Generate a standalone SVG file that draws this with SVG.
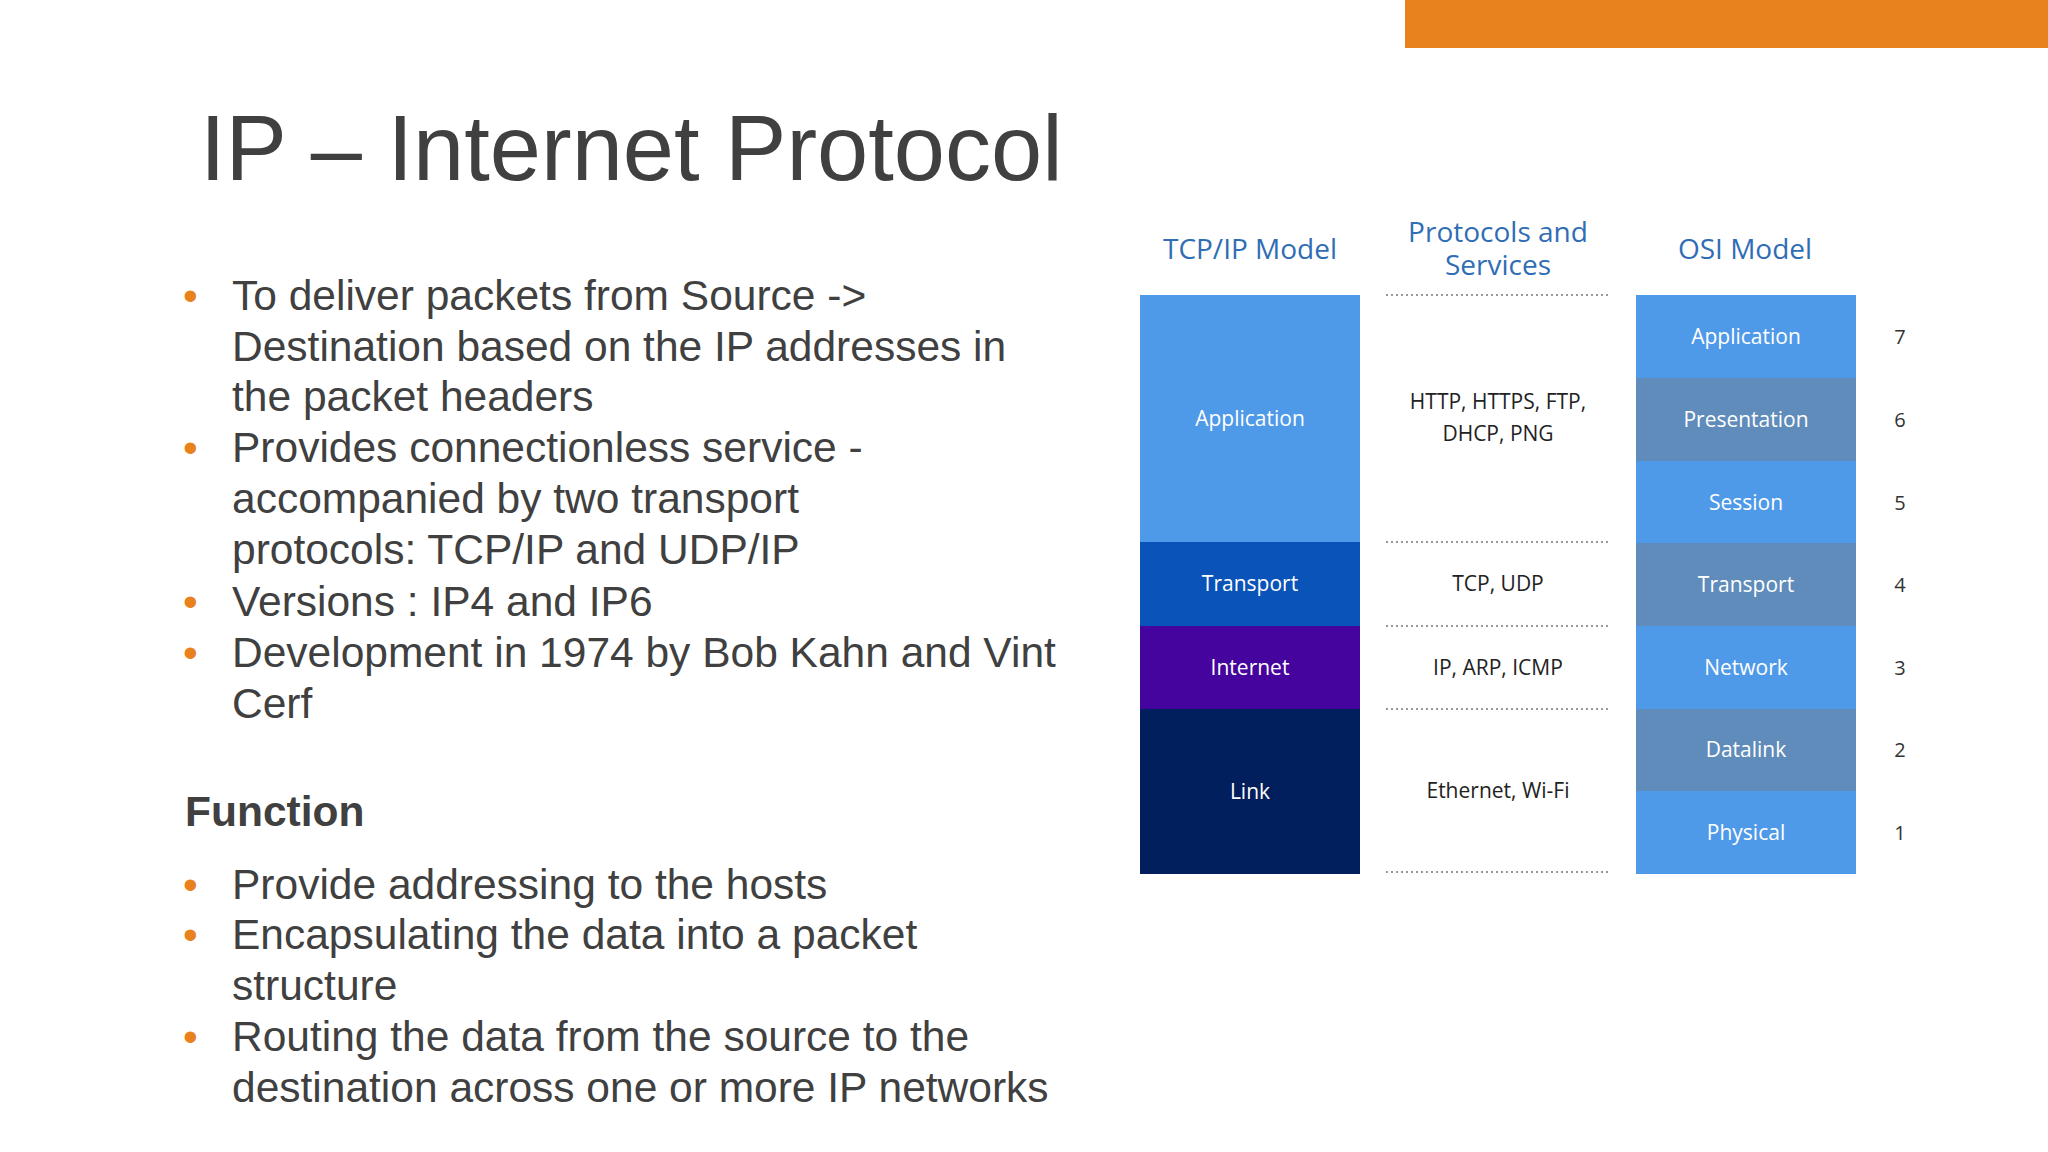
<svg xmlns="http://www.w3.org/2000/svg" width="2048" height="1152" viewBox="0 0 2048 1152">
<style>
.b{font-family:"Liberation Sans",Arial,sans-serif;font-size:42.5px;fill:#404040}
.d{fill:#e8821e;font-family:"Liberation Sans",Arial,sans-serif;font-size:42px}
.h{font-family:"Open Sans",sans-serif;font-size:28px;fill:#2f6db5;text-anchor:middle}
.l{font-family:"Open Sans",sans-serif;font-size:21px;fill:#fff;text-anchor:middle}
.p{font-family:"Open Sans",sans-serif;font-size:21px;fill:#222;text-anchor:middle}
.n{font-family:"Open Sans",sans-serif;font-size:20px;fill:#333;text-anchor:middle}
.dot{stroke:#999;stroke-width:2;stroke-dasharray:2 3}
</style>
<rect width="2048" height="1152" fill="#fff"/>
<rect x="1405" y="0" width="643" height="48" fill="#e8821e"/>
<text x="200" y="180" font-family="Liberation Sans,Arial,sans-serif" font-size="92" fill="#404040">IP – Internet Protocol</text>
<g id="bullets">
<text class="d" x="183" y="310">•</text><text class="b" x="232" y="310">To deliver packets from Source -&gt;</text>
<text class="b" x="232" y="361">Destination based on the IP addresses in</text>
<text class="b" x="232" y="411">the packet headers</text>
<text class="d" x="183" y="462">•</text><text class="b" x="232" y="462">Provides connectionless service -</text>
<text class="b" x="232" y="513">accompanied by two transport</text>
<text class="b" x="232" y="564">protocols: TCP/IP and UDP/IP</text>
<text class="d" x="183" y="616">•</text><text class="b" x="232" y="616">Versions : IP4 and IP6</text>
<text class="d" x="183" y="667">•</text><text class="b" x="232" y="667">Development in 1974 by Bob Kahn and Vint</text>
<text class="b" x="232" y="718">Cerf</text>
<text class="b" x="185" y="840" font-weight="bold" transform="translate(0,-14)">Function</text>
<text class="d" x="183" y="899">•</text><text class="b" x="232" y="899">Provide addressing to the hosts</text>
<text class="d" x="183" y="949">•</text><text class="b" x="232" y="949">Encapsulating the data into a packet</text>
<text class="b" x="232" y="1000">structure</text>
<text class="d" x="183" y="1051">•</text><text class="b" x="232" y="1051">Routing the data from the source to the</text>
<text class="b" x="232" y="1102">destination across one or more IP networks</text>
</g>
<g id="headers">
<text class="h" x="1250" y="259">TCP/IP Model</text>
<text class="h" x="1498" y="242">Protocols and</text>
<text class="h" x="1498" y="275">Services</text>
<text class="h" x="1745" y="259">OSI Model</text>
</g>
<g id="tcpip">
<rect x="1140" y="295" width="220" height="247" fill="#4f9ae8"/><text class="l" x="1250" y="426">Application</text>
<rect x="1140" y="542" width="220" height="84" fill="#0a53b8"/><text class="l" x="1250" y="591">Transport</text>
<rect x="1140" y="626" width="220" height="83" fill="#45049e"/><text class="l" x="1250" y="675">Internet</text>
<rect x="1140" y="709" width="220" height="165" fill="#001f5c"/><text class="l" x="1250" y="799">Link</text>
</g>
<g id="connectors">
<line class="dot" x1="1386" y1="295" x2="1610" y2="295"/>
<line class="dot" x1="1386" y1="542" x2="1610" y2="542"/>
<line class="dot" x1="1386" y1="626" x2="1610" y2="626"/>
<line class="dot" x1="1386" y1="709" x2="1610" y2="709"/>
<line class="dot" x1="1386" y1="872" x2="1610" y2="872"/>
</g>
<g id="protocols">
<text class="p" x="1498" y="409">HTTP, HTTPS, FTP,</text>
<text class="p" x="1498" y="441">DHCP, PNG</text>
<text class="p" x="1498" y="591">TCP, UDP</text>
<text class="p" x="1498" y="675">IP, ARP, ICMP</text>
<text class="p" x="1498" y="798">Ethernet, Wi-Fi</text>
</g>
<g id="osi">
<rect x="1636" y="295" width="220" height="83" fill="#4f9ae8"/><text class="l" x="1746" y="344">Application</text><text class="n" x="1900" y="344">7</text>
<rect x="1636" y="378" width="220" height="83" fill="#5f8cba"/><text class="l" x="1746" y="427">Presentation</text><text class="n" x="1900" y="427">6</text>
<rect x="1636" y="461" width="220" height="82" fill="#4f9ae8"/><text class="l" x="1746" y="510">Session</text><text class="n" x="1900" y="510">5</text>
<rect x="1636" y="543" width="220" height="83" fill="#5f8cba"/><text class="l" x="1746" y="592">Transport</text><text class="n" x="1900" y="592">4</text>
<rect x="1636" y="626" width="220" height="83" fill="#4f9ae8"/><text class="l" x="1746" y="675">Network</text><text class="n" x="1900" y="675">3</text>
<rect x="1636" y="709" width="220" height="82" fill="#5f8cba"/><text class="l" x="1746" y="757">Datalink</text><text class="n" x="1900" y="757">2</text>
<rect x="1636" y="791" width="220" height="83" fill="#4f9ae8"/><text class="l" x="1746" y="840">Physical</text><text class="n" x="1900" y="840">1</text>
</g>
</svg>
